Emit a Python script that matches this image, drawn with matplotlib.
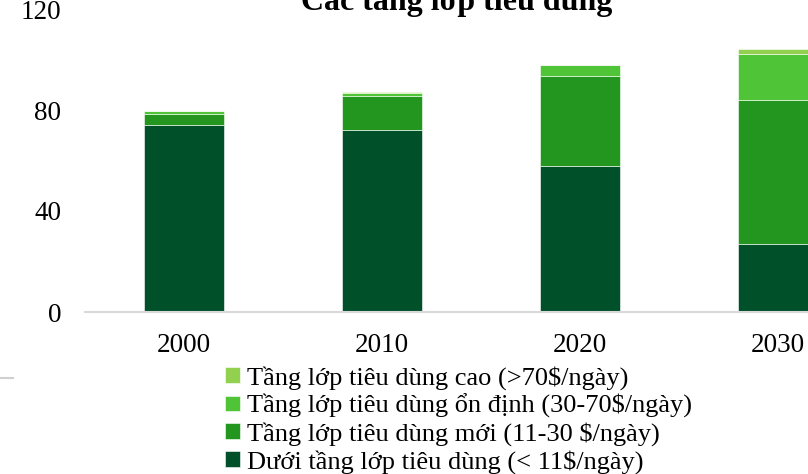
import matplotlib.pyplot as plt
from matplotlib.lines import Line2D
import numpy as np

plt.rcParams['font.family'] = ['Liberation Serif', 'DejaVu Serif']

years = ['2000', '2010', '2020', '2030']
duoi = [74, 72, 58, 27]        # < 11$/ngày
moi = [4.5, 13.5, 35.5, 57]    # 11-30 $/ngày
on_dinh = [1, 1.2, 4.3, 18]    # 30-70$/ngày
cao = [0.3, 0.3, 0.2, 2]       # >70$/ngày

labels = ['Dưới tầng lớp tiêu dùng (< 11$/ngày)',
          'Tầng lớp tiêu dùng mới (11-30 $/ngày)',
          'Tầng lớp tiêu dùng ổn định (30-70$/ngày)',
          'Tầng lớp tiêu dùng cao (>70$/ngày)']
colors = ['#00502A', '#23961F', '#50C437', '#92D050']

W, H = 808, 474
fig = plt.figure(figsize=(W / 100, H / 100), dpi=100)
ax = fig.add_axes([85 / W, 162 / H, 792 / W, 303 / H])

x = np.arange(len(years))
bottom = np.zeros(len(years))
for vals, lab, c in zip([duoi, moi, on_dinh, cao], labels, colors):
    ax.bar(x, vals, 0.4, bottom=bottom, color=c, label=lab,
           edgecolor='#ffffff', linewidth=0.4)
    bottom += np.array(vals)

ax.set_xlim(-0.5, 3.5)
ax.set_ylim(0, 120)
ax.set_yticks([0, 40, 80, 120])
ax.set_xticks(x)
ax.set_xticklabels(years)
ax.tick_params(length=0, labelsize=19.5)
ax.tick_params(axis='x', pad=15)
ax.tick_params(axis='y', pad=17)
for s in ['top', 'right', 'left']:
    ax.spines[s].set_visible(False)
ax.spines['bottom'].set_color('#D9D9D9')
ax.spines['bottom'].set_linewidth(1.5)

fig.text(457 / W, 1 - 10 / H, 'Các tầng lớp tiêu dùng', ha='center', va='baseline',
         fontsize=23, fontweight='bold')

# short grey rule at the left edge
fig.add_artist(Line2D([0, 13 / W], [1 - 378 / H] * 2, color='#D0D0D0', lw=1.5))

h, l = ax.get_legend_handles_labels()
fig.legend(h[::-1], l[::-1], loc='upper left', bbox_to_anchor=(225 / W, 1 - 366 / H),
           frameon=False, fontsize=19, handlelength=0.55, handleheight=0.55,
           handletextpad=0.3, labelspacing=0.15, borderpad=0, borderaxespad=0)

fig.savefig('out.png', dpi=100)
